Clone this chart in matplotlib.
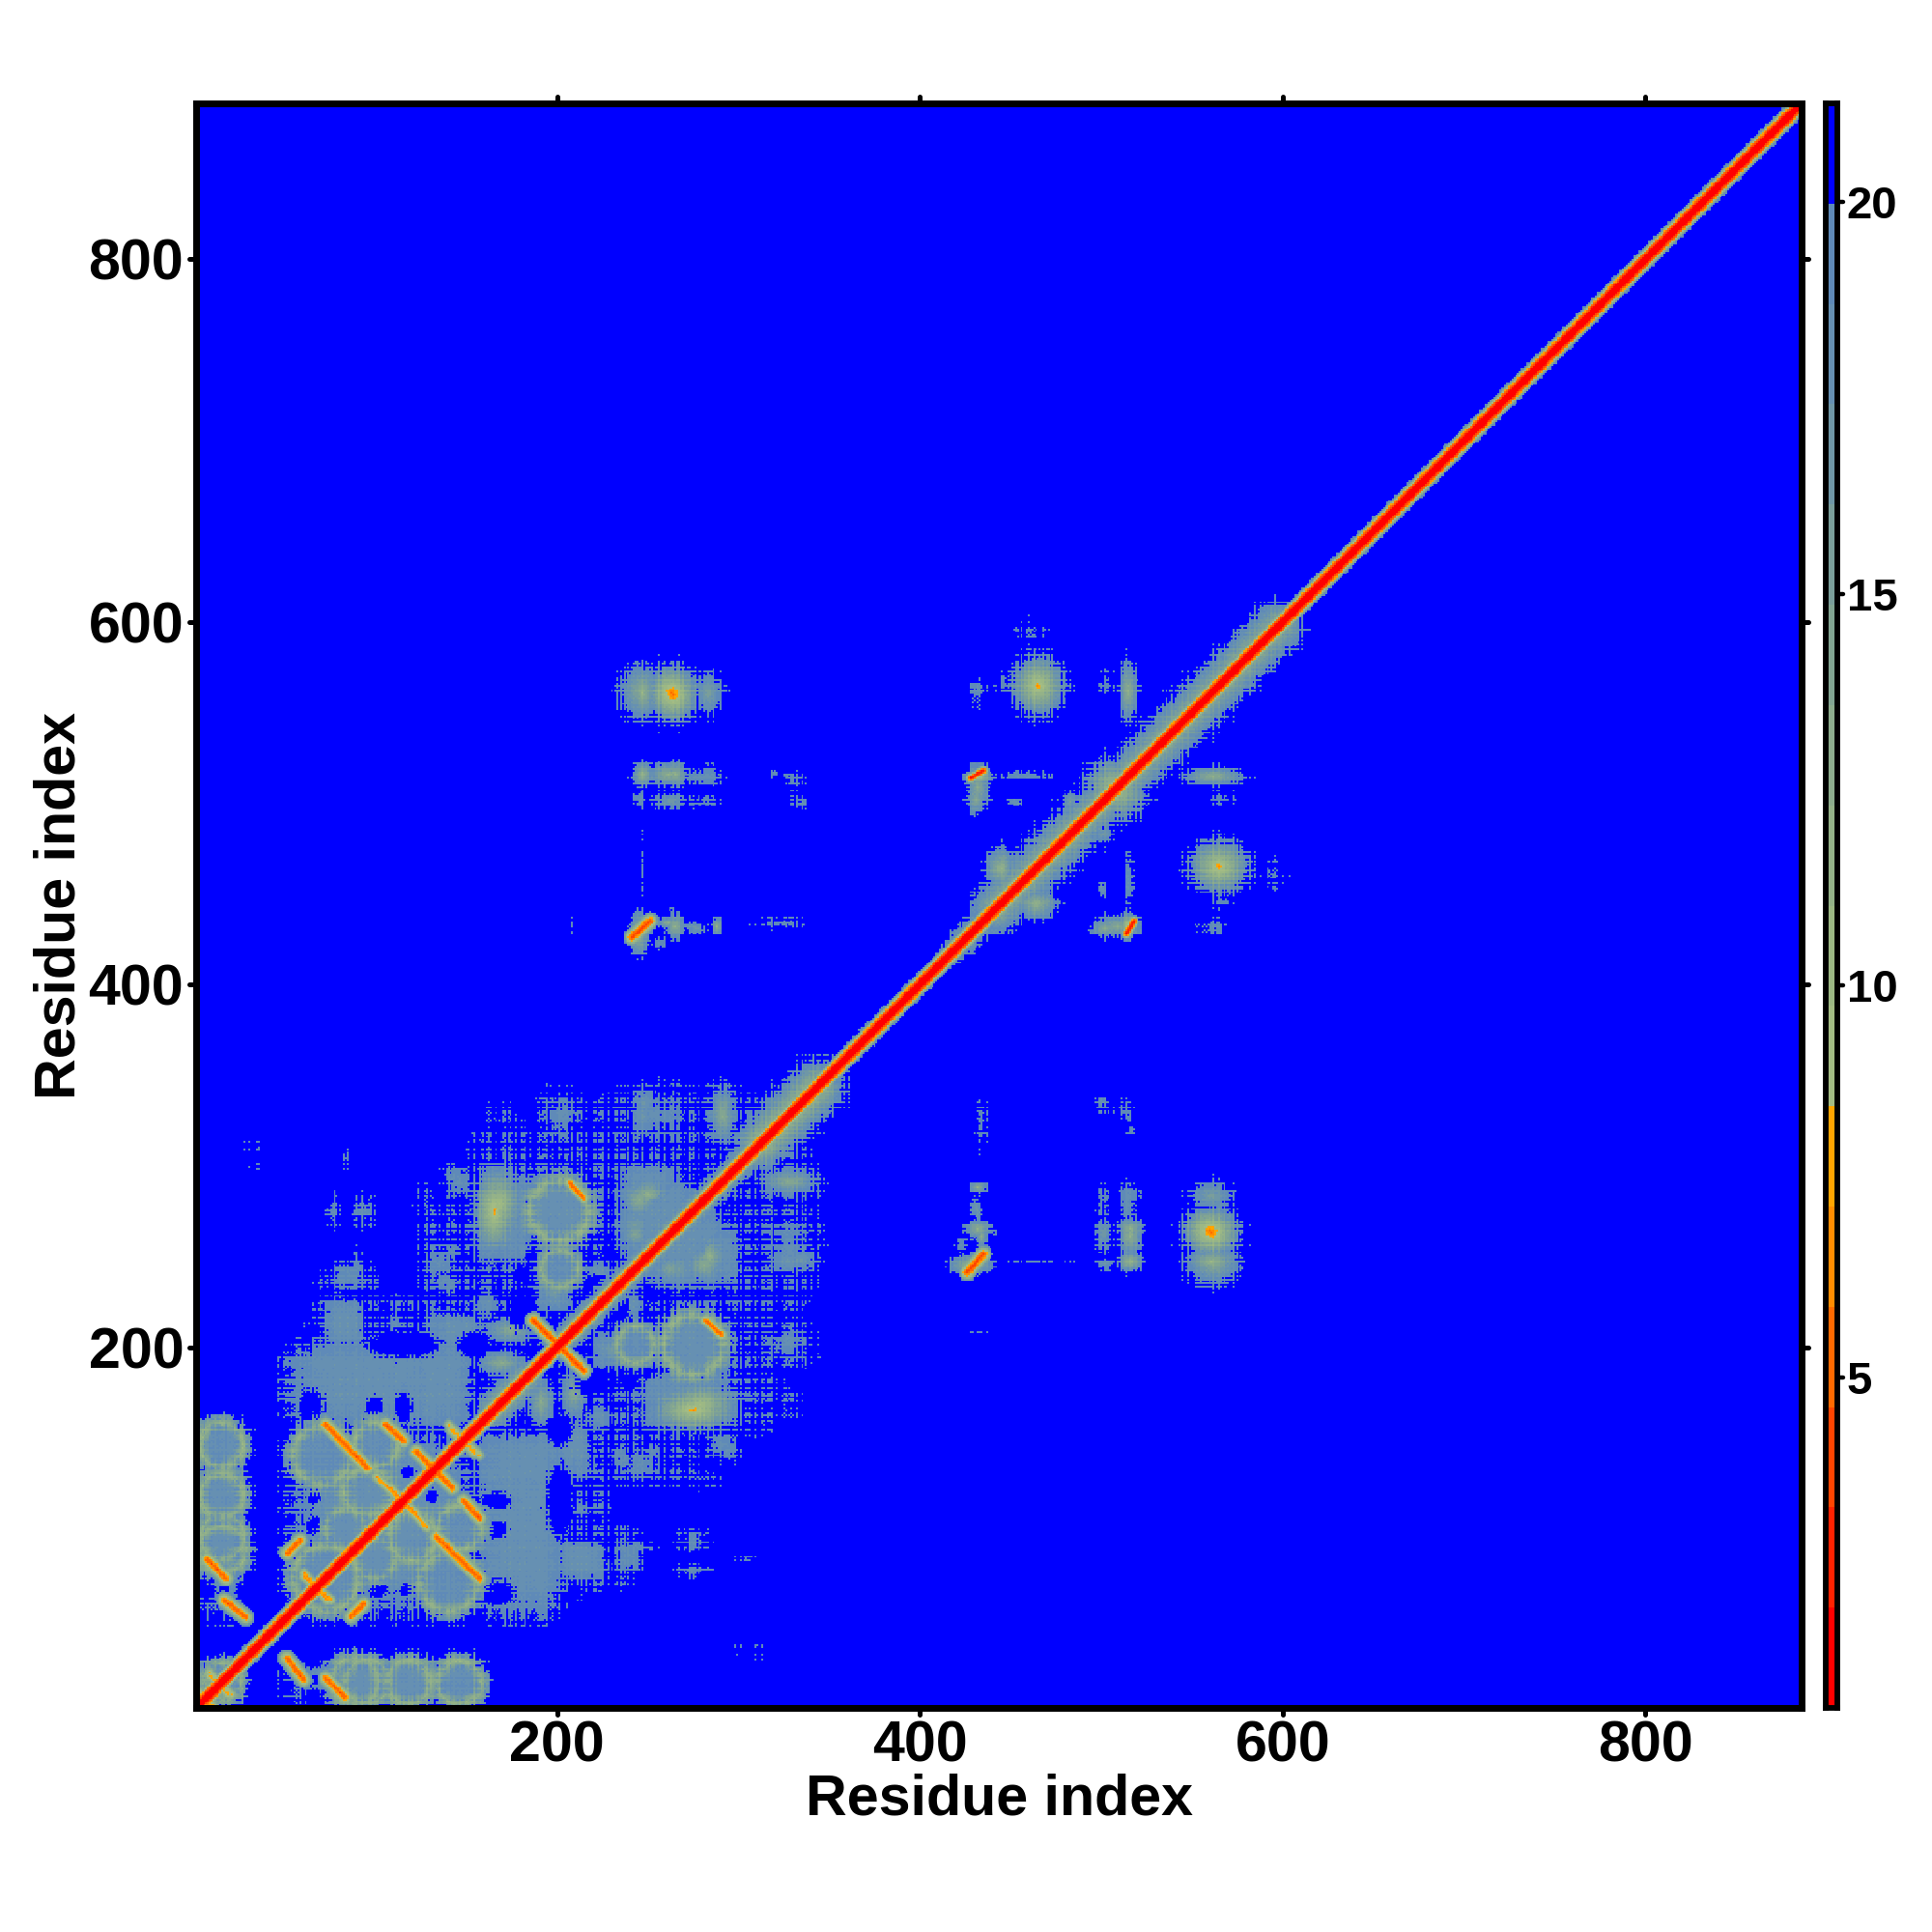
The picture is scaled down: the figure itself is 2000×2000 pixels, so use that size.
"""Residue distance map rebuilt from features read off the picture.

The matrix is symmetric, so each feature is listed once and mirrored. The speckle
is only an approximation: it comes from the hand typed grain lists, not from cell readings.
"""
import numpy as np
import matplotlib
matplotlib.use('Agg')
import matplotlib.pyplot as plt
from matplotlib.colors import ListedColormap, BoundaryNorm
from matplotlib.markers import MarkerStyle, TICKLEFT, TICKRIGHT, TICKUP, TICKDOWN

N_RES = 886
LEVELS = [0.78, 2.06, 3.34, 4.62, 5.90, 7.18, 8.46, 9.74, 11.02, 12.30, 13.58,
          14.86, 16.14, 17.42, 18.70, 19.98, 21.26]
COLORS = ['#ff0000', '#ff2200', '#ff4500', '#ff6a00', '#ff8c00', '#ffa500',
          '#a3bc84', '#9cb884', '#94b288', '#8cac8c', '#82a592', '#7a9e9a',
          '#6f97a6', '#6690b2', '#5f8ab8', '#0000ff']
AXIS_TICKS = [200, 400, 600, 800]
BAR_TICKS = [5, 10, 15, 20]

# distance against |i - j|
DIAG_PROFILE = [1.0, 1.0, 1.6, 3.5, 5.5, 8.5, 13.0, 18.0, 20.5]

# square-ish filled areas: x, y, rx, ry
BLOCKS = [
    (15, 15, 14, 14), (15, 103, 14, 56), (103, 103, 56, 56), (101, 180, 52, 28),
    (82, 213, 13, 15), (180, 135, 30, 20), (180, 90, 28, 45), (277, 187, 21, 32),
    (209, 144, 10, 17), (170, 270, 20, 30), (205, 275, 16, 22), (255, 270, 25, 28),
    (285, 250, 18, 18),
]
# soft blobs: x, y, rx, ry, lowest distance
BLOBS = [
    (246, 562, 11, 14, 13), (264, 560, 12, 14, 5), (279, 565, 12, 8, 18),
    (561, 263, 14, 13, 5), (561, 247, 14, 6, 11), (561, 283, 11, 8, 15),
    (432, 288, 5, 3, 12), (431, 277, 3, 5, 16), (432, 265, 7, 5, 12),
    (428, 245, 12, 5, 11), (434, 323, 3, 13, 19), (516, 265, 7, 6, 12),
    (501, 263, 4.5, 7, 16), (515, 283, 6, 8, 18), (501, 281, 4, 7, 19.5),
    (516, 247, 7, 5, 11), (502, 246, 6, 2, 17), (500, 335, 3, 4, 18),
    (513, 331, 5, 5, 19.5), (517, 320, 2, 3, 18), (433, 208, 4, 2, 19.5),
    (247, 515, 6, 5, 16), (261, 516, 11, 6, 12), (280, 515, 12, 4, 18),
    (261, 501, 9, 5, 17), (279, 500, 10, 4, 19.5), (245, 503, 4, 4, 19.6),
    (327, 516, 9, 2, 19.7), (334, 500, 5, 2, 18.5), (330, 508, 3, 5, 19.8),
    (245, 428, 6, 8, 12), (261, 434, 6, 3, 13), (274, 432, 8, 2, 17),
    (288, 432, 3, 5, 13), (324, 433, 16, 2, 19.5), (247, 465, 1, 15, 19.9),
    (262, 442, 2, 4, 19.5), (257, 423, 5, 3, 18.5),
    (465, 565, 14, 15, 7), (446, 568, 4, 5, 19), (432, 562, 3, 11, 19.6),
    (461, 595, 8, 7, 19.9), (515, 562, 5, 14, 13), (502, 567, 3, 4, 19.7),
    (432, 515, 7, 4, 6), (431, 502, 5, 8, 13), (458, 515, 14, 2, 18.5),
    (454, 500, 4, 1.5, 18), (483, 501, 4, 6, 16), (498, 483, 8, 5, 18),
    (508, 507, 16, 15, 9), (562, 515, 15, 5, 12), (567, 503, 6, 5, 19.8),
    (565, 466, 9, 9, 10), (565, 476, 3, 6, 18), (593, 462, 7, 6, 19.9),
    (566, 446, 6, 4, 19.5), (562, 432, 9, 4, 18.5), (509, 432, 13, 6, 13),
    (516, 457, 3, 15, 19), (501, 452, 1.5, 5, 18), (445, 464, 7, 12, 12),
    (464, 444, 10, 8, 12), (475, 473, 9, 8, 14),
    (275, 165, 22, 11, 7), (209, 174, 7, 13, 13), (191, 169, 7, 13, 13),
    (236, 137, 9, 5, 18), (291, 146, 8, 9, 18), (186, 123, 9, 5, 18),
    (245, 281, 10, 12, 13), (168, 279, 12, 20, 9), (291, 329, 8, 11, 14),
    (248, 334, 7, 11, 17), (200, 324, 9, 16, 19), (262, 327, 10, 7, 18.8),
    (168, 323, 8, 10, 19.9), (143, 293, 8, 7, 18.5), (328, 291, 16, 7, 13),
    (328, 261, 16, 9, 18.5), (327, 247, 14, 7, 17), (284, 250, 9, 11, 12),
    (262, 243, 8, 8, 14), (329, 208, 13, 7, 19.5), (333, 197, 10, 6, 19.6),
    (310, 169, 18, 5, 19.9),
    (218, 83, 11, 11, 18), (206, 89, 12, 6, 18), (239, 85, 8, 12, 18),
    (243, 90, 9, 3, 18.5), (275, 92, 8, 4.5, 18), (275, 76, 9, 3.5, 18.5),
    (213, 109, 7, 3, 18.5), (191, 85, 8, 8, 18), (303, 83, 3, 2, 19),
    (234, 140, 7, 5, 18), (252, 142, 7, 6, 19), (209, 124, 3, 5, 19),
    (191, 124, 5, 6, 18.5), (220, 155, 8, 4, 18.8), (280, 126, 11, 4, 19.9),
    (31, 311, 5, 3, 19.8), (32, 300, 3, 4, 19.9), (84, 304, 2, 7, 19.8),
    (76, 274, 4, 8, 18.5), (93, 275, 6, 8, 18.5), (126, 279, 5, 6, 19.8),
    (144, 290, 8, 5, 18.5), (142, 268, 6, 7, 19.9), (85, 237, 15, 6, 18.5),
    (110, 213, 3.5, 7, 18.5), (143, 254, 5, 9, 19.8), (172, 242, 14, 7, 19.8),
    (253, 328, 10, 12, 18), (202, 328, 8, 12, 18), (198, 230, 12, 12, 16),
    (239, 223, 10, 10, 17), (161, 223, 10, 10, 18), (267, 243, 14, 12, 16),
    (219, 77, 12, 8, 18), (165, 128, 16, 14, 18), (178, 101, 14, 16, 18),
    (212, 135, 12, 10, 18), (246, 135, 12, 9, 18),
]
# speckled areas: x, y, rx, ry
SPECKLES = [
    (250, 180, 50, 45), (185, 300, 35, 25), (265, 320, 45, 25), (325, 270, 20, 45),
    (230, 280, 15, 20), (300, 240, 25, 30), (200, 110, 30, 50), (320, 200, 22, 15),
    (250, 135, 30, 12), (155, 240, 25, 15),
]
# rings: x, y, R, half width, lowest distance
RINGS = [
    (146, 100, 12, 6, 11), (120, 95, 13, 6, 11), (140, 70, 16, 6, 11),
    (99, 83, 11, 5, 11.5), (14, 146, 12, 5, 11), (14, 117, 12, 5, 11.5),
    (15, 88, 13, 6, 11.5), (72, 72, 18, 6, 11), (15, 15, 10, 5, 11.5),
    (118, 15, 12, 5, 11.5), (145, 15, 12, 5, 11.5), (95, 15, 12, 5, 11.5),
    (275, 201, 17, 6, 11), (243, 201, 10, 5, 11.5), (201, 275, 16, 6, 11),
]
# distance minima along a line: x0, y0, x1, y1, half width, lowest distance
STRIPES = [
    (72, 157, 95, 133, 4, 5), (105, 157, 115, 148, 4, 5), (125, 139, 142, 122, 4, 5),
    (100, 128, 122, 108, 3, 7), (51, 86, 58, 93, 4, 5), (6.5, 82.6, 17, 72, 4, 5),
    (16, 60, 28, 50.5, 4, 5), (187, 214, 214.5, 186.6, 4, 4.5),
    (206.5, 290.6, 214.5, 281.7, 3, 5), (241, 426, 251, 435, 4, 4),
    (514, 428, 518, 435, 2.5, 2), (1, 10, 8, 1, 3, 7), (8, 18, 20, 8, 3, 8),
    (60, 73, 75, 60, 3, 7), (141, 154, 157, 140, 3, 8),
]
# wider parts of the main diagonal: first, last, half width, lowest distance
DIAG_FUZZ = [
    (160, 179, 6, 5), (165, 182, 12, 10), (205, 283, 9, 9), (228, 245, 5, 5),
    (280, 310, 9, 10), (312, 343, 17, 9), (322, 343, 8, 5), (360, 372, 5, 6),
    (420, 440, 9, 13), (442, 485, 16, 11), (452, 470, 8, 6), (487, 530, 15, 11),
    (532, 598, 16, 11), (555, 575, 8, 6), (598, 604, 7, 12),
]
# blue holes: x, y, rx, ry
HOLES = [
    (66, 101, 7, 5), (65, 119, 5, 6), (100.7, 67.5, 5.5, 6), (117, 67.5, 6, 5),
    (166, 64, 10, 7), (165, 115, 9, 5), (165, 99.5, 7, 5), (201, 154, 7, 9),
    (201, 114, 7, 22), (204, 67, 9, 8), (117, 131, 4, 3), (131, 117, 4, 5),
    (115, 201, 20, 7), (154, 201, 9, 5), (181, 202, 9, 4), (99, 165, 5, 7),
    (115, 169, 5, 12), (131, 169, 4, 11), (64, 167, 8, 10), (280, 181, 9, 5),
    (227, 179, 17, 8), (221.6, 199, 13, 6), (275, 254, 7, 5), (190, 250, 7, 10),
    (216, 265, 6, 8), (233, 222, 7, 9), (5, 146, 3, 3), (6.5, 130, 4, 5),
    (5, 117, 4, 3), (17, 115, 3, 3), (5, 101, 4, 5), (26, 101, 3, 5),
    (6.5, 67.5, 5, 8), (16, 67, 2.5, 5), (28, 66, 5, 7), (185, 240, 8, 5),
    (225, 250, 8, 6),
]
# typed grain, row and column lists of different lengths
GRAIN_A = [0.2, -0.3, 0.4, -0.1, -0.4, 0.3, 0.1, -0.2, 0.4, -0.4, 0.2, 0.0, -0.3,
           0.3, -0.2, 0.4, -0.1]
GRAIN_B = [-0.2, 0.3, 0.1, -0.4, 0.4, -0.1, 0.2, -0.3, 0.0, 0.3, -0.4, 0.2, 0.4,
           -0.2, -0.1, 0.3, -0.3, 0.1, 0.4, -0.4, 0.2, -0.1, 0.3]
STREAK = [0.5, 0.4, 0.5, -0.4, -0.5, 0.3, -0.5, -0.4, -0.5, 0.5, 0.4, -0.3, 0.5, 0.5,
          0.3, -0.5, -0.4, 0.4, -0.5, -0.5, -0.3, 0.5, -0.4, 0.4, 0.5, -0.5, -0.3,
          -0.5, 0.4, 0.3, -0.4]


def build_matrix():
    idx = np.arange(1, N_RES + 1)
    yy, xx = np.meshgrid(idx, idx, indexing='ij')
    d = np.full(xx.shape, 21.5)
    edge = 21.0

    ga = np.array(GRAIN_A)[idx % len(GRAIN_A)]
    gb = np.array(GRAIN_B)[idx % len(GRAIN_B)]
    gs = np.array(STREAK)[idx % len(STREAK)]
    # rows and columns with stronger contacts pull the outlines out into spikes
    gw = ga + gb
    spike = gw[:, None] + gw[None, :]
    rough = 1 + 0.22 * spike
    plaid = gs[:, None] + gs[None, :]

    for x, y, rx, ry in BLOCKS:
        # spikes keep about the same length whatever the size of the block
        block_rough = 1 + 0.22 * spike * min(1.0, 9.0 / min(rx, ry))
        r = ((np.abs(xx - x) / rx) ** 4 + (np.abs(yy - y) / ry) ** 4) ** 0.25 * block_rough
        d = np.minimum(d, np.where(r < 1, 18.0 + (edge - 18.0) * r ** 3, 21.5))
    for x, y, rx, ry in SPECKLES:
        block_rough = 1 + 0.22 * spike * min(1.0, 5.0 / min(rx, ry))
        r = ((np.abs(xx - x) / rx) ** 4 + (np.abs(yy - y) / ry) ** 4) ** 0.25 * block_rough
        d = np.minimum(d, np.where(r < 1, 20.25 + 0.3 * r, 21.5))
    for x, y, rx, ry, core in BLOBS:
        r = np.hypot((xx - x) / (1.25 * rx), (yy - y) / (1.25 * ry)) * rough
        d = np.minimum(d, np.where(r < 1, core + (edge - core) * r ** 0.85, 21.5))
    # the inside of a ring is filled, but holes can still cut it
    for x, y, rad, hw, core in RINGS:
        d = np.minimum(d, np.where(np.hypot(xx - x, yy - y) < rad, 18.6, 21.5))
    for x, y, rx, ry in HOLES:
        r = np.hypot((xx - x) / rx, (yy - y) / ry) * rough
        d = np.where(r < 1, 21.5, d)
    for x, y, rad, hw, core in RINGS:
        r = np.abs(np.hypot(xx - x, yy - y) - rad) / hw * (1 + 0.35 * spike)
        # the ring itself breaks up in blotches
        patchy = np.clip(core + 4.0 * (plaid + 0.3), core, 18)
        d = np.minimum(d, np.where(r < 1, patchy + (edge - core) * r ** 0.8 * 0.7, 21.5))
    for x0, y0, x1, y1, hw, core in STRIPES:
        dx, dy = x1 - x0, y1 - y0
        t = np.clip(((xx - x0) * dx + (yy - y0) * dy) / (dx * dx + dy * dy), 0, 1)
        r = np.hypot(xx - x0 - t * dx, yy - y0 - t * dy) / (1.3 * hw)
        d = np.minimum(d, np.where(r < 1, core + (edge - core) * r ** 1.5, 21.5))
    for a, b, hw, core in DIAG_FUZZ:
        t = np.clip(((xx - a) + (yy - a)) / (2.0 * (b - a)), 0, 1)
        r = np.hypot(xx - a - t * (b - a), yy - a - t * (b - a)) / hw * rough
        d = np.minimum(d, np.where(r < 1, core + (edge - core) * r ** 0.8, 21.5))

    d = np.minimum(d, d.T)

    prof = np.array(DIAG_PROFILE)
    off = np.abs(xx - yy)
    near = off < len(prof)
    d[near] = np.minimum(d[near], prof[off[near]])

    hatch = 2.0 * (np.outer(ga, gb) + np.outer(gb, ga)) + 0.5 * (ga[:, None] + ga[None, :])
    weight = np.clip((d - 17) / 3, 0, 1)
    streak = weight * 0.9 * plaid
    d = np.where(d < 21.5, d + hatch + streak, 21.5)
    # the central band stays red whatever the grain does
    core_band = off <= 2
    d[core_band] = prof[off[core_band]]
    return np.clip(d, LEVELS[0], LEVELS[-1] - 0.01)


def set_round_ticks(axis_ticks, m1, m2):
    for t in axis_ticks:
        t.tick1line.set_marker(MarkerStyle(m1, capstyle='round'))
        t.tick2line.set_marker(MarkerStyle(m2, capstyle='round'))


plt.rcParams['font.family'] = ['Liberation Sans', 'DejaVu Sans']
plt.rcParams['font.weight'] = 'bold'

cmap = ListedColormap(COLORS)
norm = BoundaryNorm(LEVELS, cmap.N)

fig = plt.figure(figsize=(10, 10), dpi=200)
ax = fig.add_axes([203 / 2000, 1 - 1768 / 2000, 1662 / 2000, 1661 / 2000])
ax.imshow(build_matrix(), origin='lower', extent=(1, N_RES, 1, N_RES), cmap=cmap,
          norm=norm, interpolation='nearest', aspect='auto')
ax.set_xlim(1, N_RES)
ax.set_ylim(1, N_RES)
ax.set_xticks(AXIS_TICKS)
ax.set_yticks(AXIS_TICKS)
ax.tick_params(axis='both', which='major', direction='out', length=2.6, width=1.8,
               labelsize=21.3, pad=2, top=True, right=True)
set_round_ticks(ax.xaxis.get_major_ticks(), TICKDOWN, TICKUP)
set_round_ticks(ax.yaxis.get_major_ticks(), TICKLEFT, TICKRIGHT)
ax.set_xlabel('Residue index', fontsize=21.3, fontweight='bold', labelpad=0)
ax.set_ylabel('Residue index', fontsize=21.3, fontweight='bold', labelpad=0.6)
for sp in ax.spines.values():
    sp.set_linewidth(2.5)

cax = fig.add_axes([1889.5 / 2000, 1 - 1768 / 2000, 12 / 2000, 1661 / 2000])
bar_y = np.array(LEVELS)
cax.pcolormesh([0, 1], bar_y, np.array(LEVELS[:-1])[:, None] + 0.01, cmap=cmap, norm=norm)
cax.set_xticks([])
cax.yaxis.tick_right()
cax.set_yticks(BAR_TICKS)
cax.set_ylim(LEVELS[0], LEVELS[-1])
cax.tick_params(axis='y', direction='out', length=2.2, width=1.6, labelsize=17, pad=1.5)
for t in cax.yaxis.get_major_ticks():
    t.tick2line.set_marker(MarkerStyle(TICKRIGHT, capstyle='round'))
for sp in cax.spines.values():
    sp.set_linewidth(2.1)

fig.savefig('out.png', dpi=200)
